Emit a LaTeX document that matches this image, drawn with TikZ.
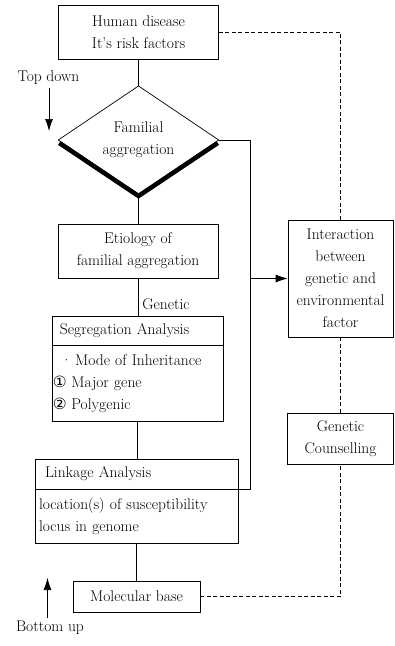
\documentclass[tikz,border=0pt]{standalone}
\usepackage{fontspec}
\usetikzlibrary{shapes.geometric, arrows.meta, positioning, calc}
\newfontfamily\circfont{DejaVu Sans}

\tikzset{
  box/.style={draw, line width=0.7pt, align=center, inner sep=1pt},
  part/.style={draw, line width=0.7pt, align=left, inner sep=0pt},
  link/.style={line width=0.7pt},
  dlink/.style={line width=0.7pt, dash pattern=on 4pt off 2.5pt},
  tip/.style={-{Latex[length=12pt,width=8pt]}, line width=0.7pt}
}

\begin{document}
\begin{tikzpicture}[x=1pt, y=-1pt, font=\fontsize{15.5}{22}\selectfont]
        \useasboundingbox (0,0) rectangle (395,646);

        % Human disease
        \node[box, minimum width=160pt, minimum height=54pt] (disease) at (138.5,32) {Human disease\\It's risk factors};

        % Familial aggregation
        \node[diamond, minimum width=160pt, minimum height=88pt, inner sep=0pt, align=center] (famagg) at (138.5,140) {Familial\\aggregation};
        \draw[line width=0.7pt] (famagg.west) -- (famagg.north) -- (famagg.east);
        \draw[line width=0.7pt] (famagg.west) -- (famagg.south) -- (famagg.east);
        \draw[line width=4.5pt] ($(famagg.west)+(1,3)$) -- ($(famagg.south)+(0,2)$) -- ($(famagg.east)+(-1,3)$);

        % Etiology
        \node[box, minimum width=160pt, minimum height=54pt] (etiology) at (138,251) {Etiology of\\familial aggregation};

        % Segregation Analysis
        \node[part, text width=171pt, minimum height=29pt] (segHead) at (137.5,330.5) {\hspace*{8pt}Segregation Analysis};
        \node[part, text width=171pt, minimum height=76pt, anchor=north] (segBody) at (segHead.south) {\hspace*{9pt}{\textperiodcentered}\hspace{3pt}Mode of Inheritance\\\hspace*{1pt}{\circfont\fontsize{15.5}{22}\selectfont ①}\hspace{4.5pt}Major gene\\\hspace*{1pt}{\circfont\fontsize{15.5}{22}\selectfont ②}\hspace{4.5pt}Polygenic};

        % Linkage Analysis
        \node[part, text width=203pt, minimum height=30pt] (linkHead) at (136.5,474) {\hspace*{10pt}Linkage Analysis};
        \node[part, text width=203pt, minimum height=54pt, anchor=north] (linkBody) at (linkHead.south) {\hspace*{4pt}location(s) of susceptibility\\\hspace*{4pt}locus in genome};

        % Molecular base
        \node[box, minimum width=127pt, minimum height=31pt] (molecular) at (136.5,596.5) {Molecular base};

        % Interaction
        \node[box, minimum width=105pt, minimum height=117pt] (interaction) at (340.5,278.5) {Interaction\\between\\genetic and\\environmental\\factor};

        % Genetic Counselling
        \node[box, minimum width=106pt, minimum height=51pt] (counselling) at (340.5,438.5) {Genetic\\Counselling};

        % Top down / Bottom up
        \node (topdown) at (48.5,78) {Top down};
        \coordinate (tdEnd) at (49,131);
        \draw[tip] (topdown.south -| tdEnd) -- (tdEnd);
        \node (bottomup) at (50,628) {Bottom up};
        \coordinate (buEnd) at (47.5,578);
        \draw[tip] (bottomup.north -| buEnd) -- (buEnd);

        % Main line
        \draw[link] (disease.south) -- (famagg.north);
        \draw[link] (famagg.south) -- (famagg.south |- etiology.north);
        \draw[link] (etiology.south) -- node[pos=0.68, right, inner sep=4pt] {Genetic} (etiology.south |- segHead.north);
        \draw[link] (segBody.south) -- (segBody.south |- linkHead.north);
        \draw[link] (linkBody.south) -- (linkBody.south |- molecular.north);

        % Feedback line
        \coordinate (bus) at (250,0);
        \draw[link] (famagg.east) -- (famagg.east -| bus) |- (linkHead.south east);
        \draw[tip] (bus |- interaction.west) -- (interaction.west);

        % Dashed lines
        \draw[dlink] (disease.east) -| (interaction.north);
        \draw[dlink] (interaction.south) -- (counselling.north);
        \draw[dlink] (molecular.east) -| (counselling.south);
    \end{tikzpicture}
\end{document}
